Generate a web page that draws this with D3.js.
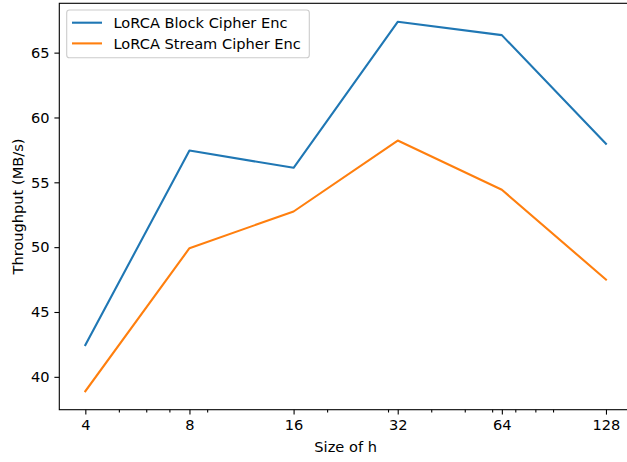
<!DOCTYPE html>
<html>
<head>
<meta charset="utf-8">
<script src="https://cdn.jsdelivr.net/npm/d3@7"></script>
<style>
  body { margin: 0; background: #fff; }
  text { font-family: "DejaVu Sans", sans-serif; fill: #000; }
</style>
</head>
<body>
<div id="chart"></div>
<script>
var sizes = [4, 8, 16, 32, 64, 128];
var blockEnc = [42.45, 57.45, 56.12, 67.38, 66.35, 57.97];
var streamEnc = [38.89, 49.92, 52.75, 58.22, 54.43, 47.50];
var seriesNames = ['LoRCA Block Cipher Enc', 'LoRCA Stream Cipher Enc'];
var yTicks = [40, 45, 50, 55, 60, 65];
var minorTicks = [5, 6, 7, 9, 20, 30, 40, 50, 60, 70, 80, 90];

var chartWidth = 627;
var chartHeight = 462;
var plotLeft = 59.3, plotTop = 3.3, plotRight = 632, plotBottom = 409.7;
var colors = ['#1f77b4', '#ff7f0e'];
var fontSize = '14.6px';

var svg = d3.select('#chart')
    .append('svg')
    .attr('width', chartWidth)
    .attr('height', chartHeight);

// Scales (log x, 5% margins like matplotlib)
var allY = blockEnc.concat(streamEnc);
var yMin = d3.min(allY), yMax = d3.max(allY);
var yPad = (yMax - yMin) * 0.05;

var scaleX = d3.scaleLog().base(2)
    .domain([4 * Math.pow(2, -0.25), 128 * Math.pow(2, 0.25)])
    .range([plotLeft, plotRight]);

var scaleY = d3.scaleLinear()
    .domain([yMin - yPad, yMax + yPad])
    .range([plotBottom, plotTop]);

// Lines
var line = d3.line()
    .x(function(d) { return scaleX(d[0]); })
    .y(function(d) { return scaleY(d[1]); });

[blockEnc, streamEnc].forEach(function(vals, i) {
  svg.append('path')
      .datum(sizes.map(function(s, j) { return [s, vals[j]]; }))
      .attr('d', line)
      .attr('fill', 'none')
      .attr('stroke', colors[i])
      .attr('stroke-width', 2.1)
      .attr('stroke-linejoin', 'round')
      .attr('stroke-linecap', 'square');
});

// Axes
var xAxis = d3.axisBottom(scaleX)
    .tickValues(sizes)
    .tickFormat(d3.format('d'))
    .tickSizeInner(4.9)
    .tickSizeOuter(0)
    .tickPadding(4.9);

var gx = svg.append('g')
    .attr('transform', 'translate(0,' + plotBottom + ')')
    .call(xAxis);

var xMinor = d3.axisBottom(scaleX)
    .tickValues(minorTicks)
    .tickFormat('')
    .tickSizeInner(2.8)
    .tickSizeOuter(0);

var gxm = svg.append('g')
    .attr('transform', 'translate(0,' + plotBottom + ')')
    .call(xMinor);

var yAxis = d3.axisLeft(scaleY)
    .tickValues(yTicks)
    .tickSizeInner(4.9)
    .tickSizeOuter(0)
    .tickPadding(4.9);

var gy = svg.append('g')
    .attr('transform', 'translate(' + plotLeft + ',0)')
    .call(yAxis);

[gx, gxm, gy].forEach(function(g) {
  g.selectAll('text')
      .style('font-family', '"DejaVu Sans", sans-serif')
      .style('font-size', fontSize)
      .attr('fill', '#000');
  g.selectAll('line').attr('stroke', '#000').attr('stroke-width', 1.1);
  g.select('.domain').remove();
});

// Frame
svg.append('rect')
    .attr('x', plotLeft)
    .attr('y', plotTop)
    .attr('width', plotRight - plotLeft)
    .attr('height', plotBottom - plotTop)
    .attr('fill', 'none')
    .attr('stroke', '#000')
    .attr('stroke-width', 1.1);

// Axis labels
svg.append('text')
    .attr('x', (plotLeft + plotRight) / 2)
    .attr('y', 452)
    .attr('text-anchor', 'middle')
    .style('font-size', fontSize)
    .text('Size of h');

svg.append('text')
    .attr('transform', 'translate(22.5,' + ((plotTop + plotBottom) / 2) + ') rotate(-90)')
    .attr('text-anchor', 'middle')
    .style('font-size', fontSize)
    .text('Throughput (MB/s)');

// Legend
var legend = svg.append('g');
legend.append('rect')
    .attr('x', 66.7)
    .attr('y', 10)
    .attr('width', 242.6)
    .attr('height', 47.7)
    .attr('rx', 2.8)
    .attr('fill', '#fff')
    .attr('fill-opacity', 0.8)
    .attr('stroke', '#ccc')
    .attr('stroke-width', 1.1);

seriesNames.forEach(function(name, i) {
  var ly = 22.7 + i * 20.7;
  legend.append('line')
      .attr('x1', 72).attr('x2', 102)
      .attr('y1', ly).attr('y2', ly)
      .attr('stroke', colors[i])
      .attr('stroke-width', 2.1);
  legend.append('text')
      .attr('x', 113.5)
      .attr('y', ly + 5.2)
      .style('font-size', fontSize)
      .text(name);
});
</script>
</body>
</html>
